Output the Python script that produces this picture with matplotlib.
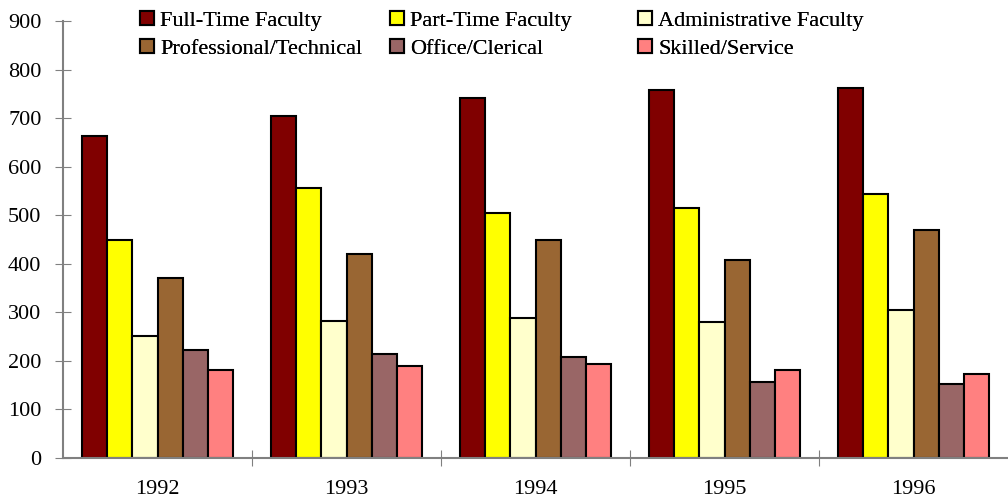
import matplotlib
matplotlib.use('Agg')
import matplotlib.pyplot as plt
import numpy as np

plt.rcParams['font.family'] = ['Liberation Serif', 'DejaVu Serif']

years = ['1992', '1993', '1994', '1995', '1996']
series_names = ['Full-Time Faculty', 'Part-Time Faculty', 'Administrative Faculty',
                'Professional/Technical', 'Office/Clerical', 'Skilled/Service']
full_time = [663, 704, 741, 758, 762]
part_time = [449, 556, 504, 515, 544]
admin = [251, 282, 288, 280, 305]
prof_tech = [371, 420, 449, 408, 470]
office = [222, 214, 208, 157, 152]
skilled = [181, 189, 194, 181, 173]
colors = ['#800000', '#FFFF00', '#FFFFCC', '#996633', '#996666', '#FF8080']

data = [full_time, part_time, admin, prof_tech, office, skilled]

fig = plt.figure(figsize=(10.08, 5.0), dpi=100)
ax = fig.add_axes([0.0625, 0.084, 0.9375, 0.874])

x = np.arange(len(years)) + 0.5
w = 0.8 / 6
bars = []
for i, (vals, name, c) in enumerate(zip(data, series_names, colors)):
    b = ax.bar(x - 0.4 + w * (i + 0.5), vals, width=w, color=c, edgecolor='black',
               linewidth=1.5, label=name)
    bars.append(b)

ax.set_xlim(0, 5)
ax.set_ylim(0, 900)
ax.set_yticks(range(0, 901, 100))
ax.set_xticks([1, 2, 3, 4])
ax.set_xticklabels([])
ax.set_xticks(x, minor=True)
ax.set_xticklabels(years, minor=True, fontsize=16)
ax.tick_params(axis='x', which='minor', length=0, pad=16)
ax.tick_params(axis='x', which='major', direction='inout', length=11, color='#808080')
ax.tick_params(axis='y', direction='inout', length=11, color='#808080', labelsize=16, pad=10)
for s in ['top', 'right']:
    ax.spines[s].set_visible(False)
for s in ['left', 'bottom']:
    ax.spines[s].set_color('#808080')
    ax.spines[s].set_linewidth(1.5)

# legend: three columns placed like the original (row 1: series 0-2, row 2: series 3-5)
col_x = [140, 390, 638]
for j, px in enumerate(col_x):
    leg = fig.legend([bars[j], bars[j + 3]], [series_names[j], series_names[j + 3]],
                     loc='upper left', bbox_to_anchor=(px / 1008, 1 - 11 / 500),
                     frameon=False, fontsize=16, handlelength=0.62, handleheight=0.62,
                     handletextpad=0.3, labelspacing=0.35, borderpad=0, borderaxespad=0)
    fig.add_artist(leg)

fig.savefig('out.png', dpi=100)
